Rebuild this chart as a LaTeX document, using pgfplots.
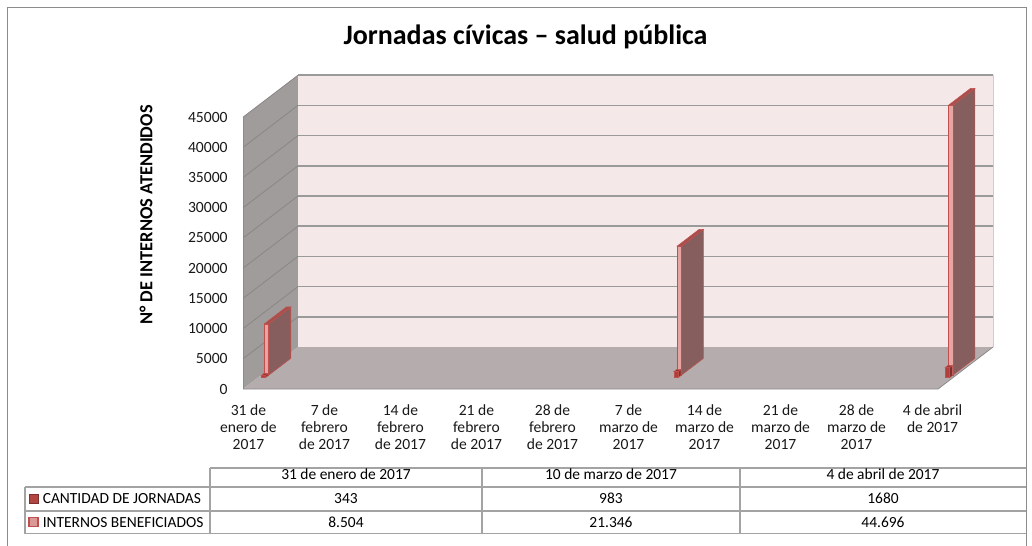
\documentclass[border=0pt]{standalone}
\usepackage{fontspec}
\setmainfont{Carlito}
\usepackage{pgfplots}
\pgfplotsset{compat=1.18}

\definecolor{framegray}{HTML}{8C8C8C}
\definecolor{wallgray}{HTML}{A09C9C}
\definecolor{wallgrid}{HTML}{8A8686}
\definecolor{floorgray}{HTML}{B4ACAD}
\definecolor{backpink}{HTML}{F4E8E9}
\definecolor{gridgray}{HTML}{9A9A9A}
\definecolor{edgegray}{HTML}{8E8A8A}
\definecolor{barline}{HTML}{C0504D}
\definecolor{sAfront}{HTML}{B03F3C}
\definecolor{sAside}{HTML}{7E2E2C}
\definecolor{sAtop}{HTML}{963634}
\definecolor{sBfront}{HTML}{E6A4A2}
\definecolor{sBside}{HTML}{875E5E}
\definecolor{sBtop}{HTML}{A84F4D}
\definecolor{keyA}{HTML}{B24643}
\definecolor{keyB}{HTML}{DA9896}
\definecolor{tablegray}{HTML}{A3A3A3}

% one 3D column: #1 day, #2 value, #3 front depth, #4 back depth, #5 front, #6 side, #7 top
\newcommand\barbox[7]{%
  \pgfmathsetmacro\xl{#1-0.2}%
  \pgfmathsetmacro\xr{#1+0.2}%
  \edef\doit{%
    \noexpand\addplot3[fill=#6, draw=barline, line width=0.4pt] coordinates {(\xr,#3,0) (\xr,#4,0) (\xr,#4,#2) (\xr,#3,#2)} -- cycle;
    \noexpand\addplot3[fill=#7, draw=barline, line width=0.4pt] coordinates {(\xl,#3,#2) (\xr,#3,#2) (\xr,#4,#2) (\xl,#4,#2)} -- cycle;
    \noexpand\addplot3[fill=#5, draw=barline, line width=0.4pt] coordinates {(\xl,#3,0) (\xr,#3,0) (\xr,#3,#2) (\xl,#3,#2)} -- cycle;
  }\doit
}

\begin{document}
\begin{tikzpicture}
\path[use as bounding box] (0,0) rectangle (774pt,-409.5pt);

\begin{scope}[x=0.75pt,y=-0.75pt]
  \draw[framegray, line width=1.4pt] (7.5,600) -- (7.5,7.5) -- (1026.5,7.5) -- (1026.5,600);
  \node[anchor=base, font=\fontsize{21}{25}\selectfont\bfseries] at (525.5,44) {Jornadas cívicas – salud pública};
  \node[rotate=90, font=\fontsize{13.8}{16}\selectfont\bfseries] at (146,215) {N° DE INTERNOS ATENDIDOS};
\end{scope}

% 3D walls, floor and columns
\begin{axis}[
  at={(182.25pt,-291.75pt)}, anchor=south west,
  x={(8.14453pt,0pt)}, y={(41.25pt,31.5pt)}, z={(0pt,0.00453333pt)},
  xmin=-0.5, xmax=63.5, ymin=0, ymax=1, zmin=0, zmax=45000,
  hide axis, clip=false]
  \fill[wallgray] (axis cs:-0.5,0,0) -- (axis cs:-0.5,1,0) -- (axis cs:-0.5,1,45000) -- (axis cs:-0.5,0,45000) -- cycle;
  \fill[backpink] (axis cs:-0.5,1,0) -- (axis cs:63.5,1,0) -- (axis cs:63.5,1,45000) -- (axis cs:-0.5,1,45000) -- cycle;
  \draw[gridgray!50, line width=0.5pt] (axis cs:63.5,1,0) -- (axis cs:63.5,1,45000);
  \pgfplotsinvokeforeach{5000,10000,15000,20000,25000,30000,35000,40000,45000}{
    \draw[gridgray, line width=1.1pt] (axis cs:-0.5,1,#1) -- (axis cs:63.5,1,#1);
    \draw[wallgrid, line width=0.6pt] (axis cs:-0.5,0,#1) -- (axis cs:-0.5,1,#1);
  }
  \fill[floorgray] (axis cs:-0.5,0,0) -- (axis cs:63.5,0,0) -- (axis cs:63.5,1,0) -- (axis cs:-0.5,1,0) -- cycle;
  \draw[edgegray, line width=0.6pt] (axis cs:-0.5,0,0) -- (axis cs:63.5,0,0) -- (axis cs:63.5,1,0);
  \draw[edgegray, line width=0.6pt] (axis cs:-0.5,0,0) -- (axis cs:-0.5,0,45000);
  % INTERNOS BENEFICIADOS (back row)
  \barbox{0}{8504}{0.33}{0.73}{sBfront}{sBside}{sBtop}
  \barbox{38}{21346}{0.33}{0.73}{sBfront}{sBside}{sBtop}
  \barbox{63}{44696}{0.33}{0.73}{sBfront}{sBside}{sBtop}
  % CANTIDAD DE JORNADAS (front row)
  \barbox{0}{343}{0.27}{0.32}{sAfront}{sAside}{sAtop}
  \barbox{38}{983}{0.27}{0.32}{sAfront}{sAside}{sAtop}
  \barbox{63}{1680}{0.27}{0.32}{sAfront}{sAside}{sAtop}
\end{axis}

% front plane: tick labels
\begin{axis}[
  at={(182.25pt,-291.75pt)}, anchor=south west,
  scale only axis, width=521.25pt, height=204pt,
  xmin=-0.5, xmax=63.5, ymin=0, ymax=45000,
  axis line style={draw=none}, major tick length=0pt,
  xtick={0,7,14,21,28,35,42,49,56,63},
  xticklabels={{31 de\\enero de\\2017},{7 de\\febrero\\de 2017},{14 de\\febrero\\de 2017},{21 de\\febrero\\de 2017},{28 de\\febrero\\de 2017},{7 de\\marzo de\\2017},{14 de\\marzo de\\2017},{21 de\\marzo de\\2017},{28 de\\marzo de\\2017},{4 de abril\\de 2017}},
  ytick={0,5000,10000,15000,20000,25000,30000,35000,40000,45000},
  scaled y ticks=false,
  /pgf/number format/1000 sep={},
  /pgf/number format/assume math mode=true,
  tick label style={font=\fontsize{11.7}{12.75}\selectfont, text=black!90},
  xticklabel style={align=center, yshift=-8pt},
  yticklabel style={xshift=-8pt}]
\end{axis}

% data table
\begin{scope}[x=0.75pt,y=-0.75pt, font=\fontsize{11.6}{14}\selectfont]
  \draw[tablegray, line width=1.1pt] (210,468) -- (1026,468);
  \draw[tablegray, line width=1.1pt] (25,487) -- (1026,487);
  \draw[tablegray, line width=1.1pt] (25,511) -- (1026,511);
  \draw[tablegray, line width=1.1pt] (25,533.5) -- (1026,533.5);
  \draw[tablegray, line width=1.1pt] (25,487) -- (25,533.5);
  \draw[tablegray, line width=1.1pt] (210,468) -- (210,533.5);
  \draw[tablegray, line width=1.1pt] (482,468) -- (482,533.5);
  \draw[tablegray, line width=1.1pt] (740,468) -- (740,533.5);
  \node[anchor=base] at (346,479.5) {31 de enero de 2017};
  \node[anchor=base] at (611,479.5) {10 de marzo de 2017};
  \node[anchor=base] at (883,479.5) {4 de abril de 2017};
  \fill[keyA, draw=sAside, line width=0.5pt] (29,494.5) rectangle (38,503.5);
  \fill[keyB, draw=barline, line width=0.8pt] (29,517.5) rectangle (38,526.5);
  \node[anchor=base west, inner sep=0pt] at (42.5,503) {CANTIDAD DE JORNADAS};
  \node[anchor=base west, inner sep=0pt] at (42.5,527.5) {INTERNOS BENEFICIADOS};
  \node[anchor=base] at (346,503) {343};
  \node[anchor=base] at (611,503) {983};
  \node[anchor=base] at (883,503) {1680};
  \node[anchor=base] at (346,527.5) {8.504};
  \node[anchor=base] at (611,527.5) {21.346};
  \node[anchor=base] at (883,527.5) {44.696};
\end{scope}
\end{tikzpicture}
\end{document}
